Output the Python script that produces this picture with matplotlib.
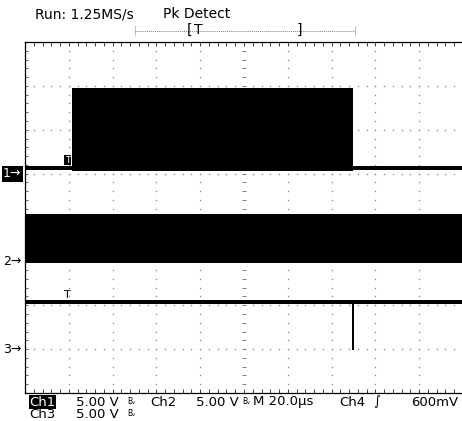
import matplotlib
matplotlib.use("Agg")
import matplotlib.pyplot as plt
import numpy as np

# Scope capture: 10 div x 8 div, 20 us/div, 5 V/div, peak detect envelopes
t_per_div = 20.0
v_per_div = 5.0

ch1_pos = 1.0    # channel ground markers, in divisions
ch2_pos = -1.0
ch3_pos = -3.0

# Ch1: burst envelope (time us, min V, max V)
ch1_t = [-100, -78.6, -78.6, 49.6, 49.6, 100]
ch1_min = [0.42, 0.42, 0.30, 0.30, 0.42, 0.42]
ch1_max = [0.86, 0.86, 9.75, 9.75, 0.86, 0.86]

# Ch2: continuous switching, full-width band
ch2_t = [-100, 100]
ch2_min = [-0.20, -0.20]
ch2_max = [5.40, 5.40]

# Ch3: high level with one short drop at the end of the burst
ch3_t = [-100, 49.4, 49.4, 50.3, 50.3, 100]
ch3_min = [5.15, 5.15, -0.10, -0.10, 5.15, 5.15]
ch3_max = [5.60, 5.60, 5.60, 5.60, 5.60, 5.60]

trig_t = -80.6

W, H = 462, 421
fig = plt.figure(figsize=(W / 100, H / 100), dpi=100)
ax = fig.add_axes([25 / W, 1 - 393 / H, 438 / W, 351 / H])
ax.set_xlim(-100, 100)
ax.set_ylim(-4, 4)


def div(pos, volts):
    return pos + np.asarray(volts) / v_per_div


# graticule dots
gray = "#808080"
minor = np.arange(-4, 4.01, 0.2)
for k in range(1, 10):
    if k == 5:
        continue
    xk = -100 + k * t_per_div
    ax.plot([xk] * len(minor), minor, ls="none", marker="s", ms=0.9, mew=0, color=gray, zorder=1)
xminor = np.arange(-100, 100.01, 4)
for k in range(-3, 4):
    if k == 0:
        continue
    ax.plot(xminor, [k] * len(xminor), ls="none", marker="s", ms=0.9, mew=0, color=gray, zorder=1)
# centre crosshair with minor ticks
ax.plot([0] * len(minor), minor, ls="none", marker="_", ms=2.5, mew=0.7, color=gray, zorder=1)
ax.plot(xminor, [0] * len(xminor), ls="none", marker="|", ms=2.5, mew=0.7, color=gray, zorder=1)

# traces
ax.fill_between(ch1_t, div(ch1_pos, ch1_min), div(ch1_pos, ch1_max), color="black", lw=0, zorder=3)
ax.fill_between(ch2_t, div(ch2_pos, ch2_min), div(ch2_pos, ch2_max), color="black", lw=0, zorder=3)
ax.fill_between(ch3_t, div(ch3_pos, ch3_min), div(ch3_pos, ch3_max), color="black", lw=0, zorder=3)

# trigger markers
ax.text(trig_t, div(ch1_pos, ch1_max[0]) + 0.03, "T", color="white", fontsize=6.5,
        ha="center", va="bottom", zorder=4,
        bbox=dict(facecolor="black", edgecolor="none", pad=0.3))
ax.text(trig_t, div(ch3_pos, ch3_max[0]) + 0.01, "T", color="black", fontsize=8,
        ha="center", va="bottom", zorder=4)

# frame
for s in ["top", "bottom", "left"]:
    ax.spines[s].set_linewidth(0.9)
ax.spines["right"].set_visible(False)
ax.set_xticks(np.arange(-100, 100.01, 4))
ax.set_yticks(minor)
ax.tick_params(axis="x", direction="in", top=True, bottom=True,
               labelbottom=False, length=3, width=0.7, color="#404040")
ax.tick_params(axis="y", direction="in", left=True, right=False,
               labelleft=False, length=2, width=0.7, color="#606060")

# channel ground markers
yax = ax.get_yaxis_transform()
ax.text(-0.050, ch1_pos, "1\u2192", transform=yax, color="white", fontsize=9,
        ha="left", va="center", clip_on=False,
        bbox=dict(facecolor="black", edgecolor="none", pad=1.0))
ax.text(-0.050, ch2_pos, "2\u2192", transform=yax, color="black", fontsize=9,
        ha="left", va="center", clip_on=False)
ax.text(-0.050, ch3_pos, "3\u2192", transform=yax, color="black", fontsize=9,
        ha="left", va="center", clip_on=False)

# header and ruler
def ftext(x, y, s, **kw):
    fig.text(x / W, 1 - y / H, s, va="center", ha="left", **kw)

ftext(35, 14, "Run: 1.25MS/s", fontsize=10)
ftext(163, 14, "Pk Detect", fontsize=10)

ov = fig.add_axes([0, 0, 1, 1], facecolor="none")
ov.set_xlim(0, W)
ov.set_ylim(H, 0)
ov.axis("off")
ov.plot([135, 355], [31, 31], ls=(0, (1, 1)), lw=0.7, color=gray)
ov.plot([135, 135], [26, 36], lw=0.7, color=gray, ls=(0, (1, 1)))
ov.plot([355, 355], [26, 36], lw=0.7, color=gray, ls=(0, (1, 1)))
ftext(187, 30, "[", fontsize=10)
ftext(194, 30, "T", fontsize=10)
ftext(297, 30, "]", fontsize=10)

# footer
fs = 9.5
fig.text(29 / W, 1 - 402 / H, "Ch1", fontsize=fs, color="white", va="center", ha="left",
         bbox=dict(facecolor="black", edgecolor="none", pad=0.3))
ftext(76, 402, "5.00 V", fontsize=fs)
ftext(127, 401, "B\u1d65", fontsize=5.5)
ftext(150, 402, "Ch2", fontsize=fs)
ftext(196, 402, "5.00 V", fontsize=fs)
ftext(242, 401, "B\u1d65", fontsize=5.5)
ftext(253, 402, "M 20.0\u00b5s", fontsize=fs)
ftext(339, 402, "Ch4", fontsize=fs)
ftext(373, 402, "\u222b", fontsize=fs)
ftext(411, 402, "600mV", fontsize=fs)
ftext(29, 414, "Ch3", fontsize=fs)
ftext(76, 414, "5.00 V", fontsize=fs)
ftext(127, 413, "B\u1d65", fontsize=5.5)

fig.savefig("out.png", dpi=100)
